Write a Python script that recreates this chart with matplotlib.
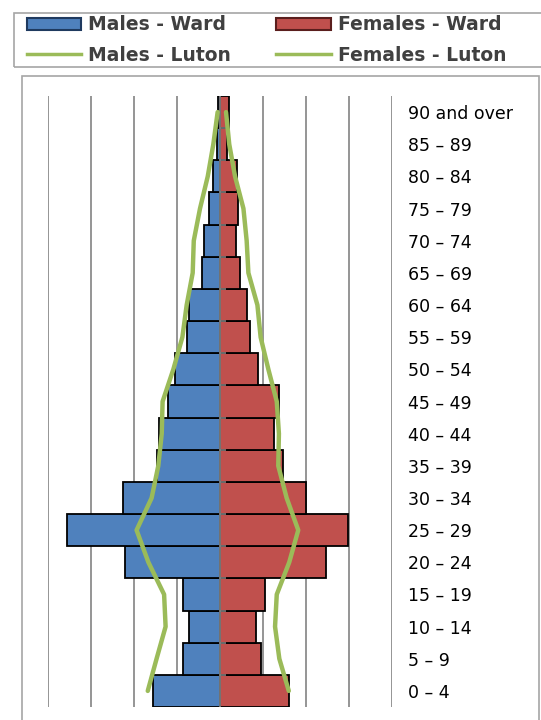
import numpy as np
import matplotlib
matplotlib.use("Agg")
import matplotlib.pyplot as plt
from matplotlib.patches import Rectangle, Patch
from matplotlib.lines import Line2D

# Age bands, youngest first (bottom of the pyramid)
age_groups = ["0 – 4", "5 – 9", "10 – 14", "15 – 19", "20 – 24", "25 – 29",
              "30 – 34", "35 – 39", "40 – 44", "45 – 49", "50 – 54", "55 – 59",
              "60 – 64", "65 – 69", "70 – 74", "75 – 79", "80 – 84", "85 – 89",
              "90 and over"]

# % of population
males_ward = [3.10, 1.74, 1.43, 1.74, 4.43, 7.10, 4.50, 2.93, 2.85, 2.40,
              2.08, 1.52, 1.43, 0.85, 0.76, 0.51, 0.34, 0.12, 0.08]
females_ward = [3.20, 1.91, 1.67, 2.09, 4.93, 5.94, 4.00, 2.91, 2.51, 2.76,
                1.75, 1.41, 1.27, 0.91, 0.74, 0.85, 0.78, 0.34, 0.43]
males_luton = [3.36, 2.95, 2.53, 2.60, 3.33, 3.88, 3.18, 2.87, 2.71, 2.67,
               2.17, 1.75, 1.55, 1.27, 1.22, 0.93, 0.57, 0.31, 0.11]
females_luton = [3.20, 2.76, 2.56, 2.64, 3.22, 3.64, 3.10, 2.71, 2.74, 2.64,
                 2.25, 1.89, 1.74, 1.32, 1.24, 1.09, 0.70, 0.43, 0.28]

blue = "#4F81BD"
red = "#C0504D"
green = "#9BBB59"
grid_c = "#8C8C8C"

fig = plt.figure(figsize=(5.41, 7.20), dpi=100)
W, H = 541, 720

# outer chart frame
fig.patches.append(Rectangle((22 / W, -0.01), (539 - 22) / W, (720 - 76) / H + 0.01,
                             transform=fig.transFigure, fill=False,
                             edgecolor="#A6A6A6", lw=1.2))

ax = fig.add_axes([48 / W, (720 - 707) / H, 344 / W, 611 / H])
y = np.arange(len(age_groups))

for gx in [-8, -6, -4, -2, 2, 4, 6, 8]:
    ax.axvline(gx, color=grid_c, lw=1.3, zorder=0)

ax.barh(y, -np.array(males_ward), height=1.0, color=blue,
        edgecolor="black", lw=1.3, zorder=2)
ax.barh(y, females_ward, height=1.0, color=red,
        edgecolor="black", lw=1.3, zorder=2)

ax.axvline(0, color="#7F7F7F", lw=1.3, zorder=3)
ax.hlines(y[:-1] + 0.5, 0, 0.28, color="#7F7F7F", lw=1.2, zorder=3)

ax.plot(-np.array(males_luton), y, color=green, lw=3.2, zorder=4,
        solid_capstyle="round")
ax.plot(females_luton, y, color=green, lw=3.2, zorder=4,
        solid_capstyle="round")

ax.set_xlim(-8, 8)
ax.set_ylim(-0.5, len(age_groups) - 0.5)
ax.set_xticks([])
ax.yaxis.tick_right()
ax.set_yticks(y)
ax.set_yticklabels(age_groups, fontsize=12.5, color="black")
ax.tick_params(axis="y", length=0, pad=11.5)
for s in ax.spines.values():
    s.set_visible(False)

# legend
fig.patches.append(Rectangle((14 / W, (720 - 67) / H), 0.99, 54 / H,
                             transform=fig.transFigure, fill=False,
                             edgecolor="#A6A6A6", lw=1.2))
handles = [Patch(facecolor=blue, edgecolor="#1F3A5F", lw=1.5),
           Line2D([], [], color=green, lw=2.5),
           Patch(facecolor=red, edgecolor="#5A1E1D", lw=1.5),
           Line2D([], [], color=green, lw=2.5)]
labels = ["Males - Ward", "Males - Luton", "Females - Ward", "Females - Luton"]
fig.legend(handles, labels, ncol=2, loc="upper left",
           bbox_to_anchor=(19 / W, 1 - 8 / H), frameon=False,
           labelcolor="#404040", handlelength=2.9,
           handleheight=0.6, handletextpad=0.4, columnspacing=2.4,
           labelspacing=0.6, borderaxespad=0,
           prop={"weight": "bold", "size": 13.5})

fig.savefig("out.png", dpi=100)
